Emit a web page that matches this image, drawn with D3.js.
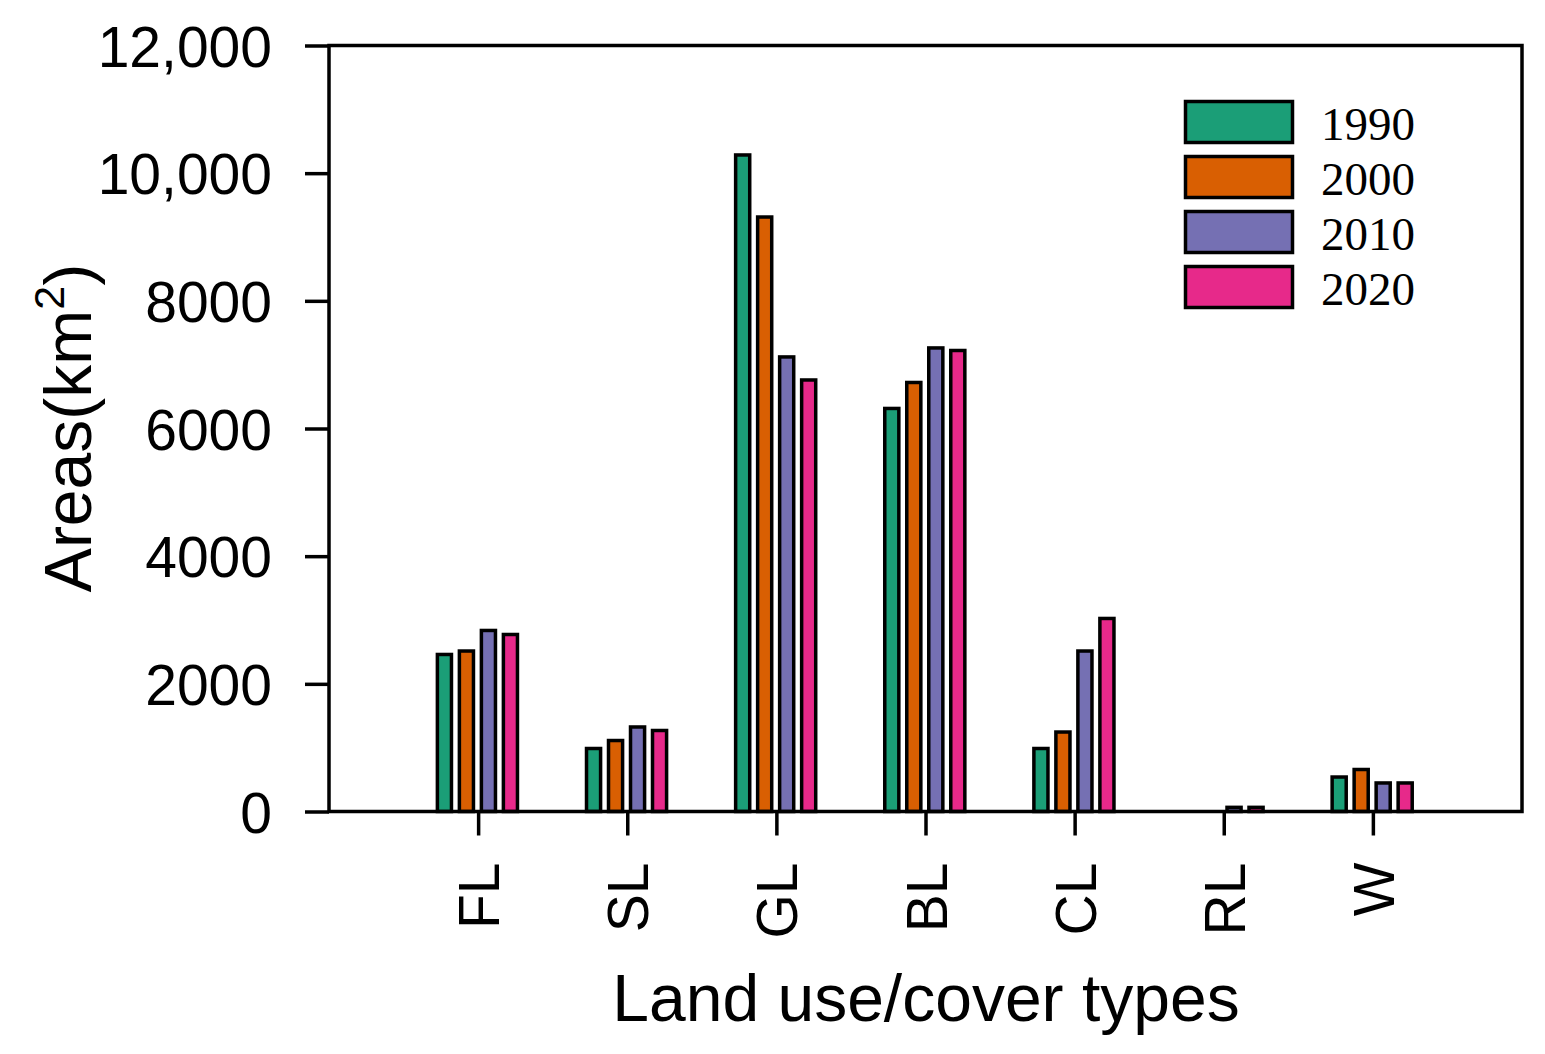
<!DOCTYPE html>
<html>
<head>
<meta charset="utf-8">
<script src="https://cdn.jsdelivr.net/npm/d3@7"></script>
<style>
  html, body { margin: 0; padding: 0; background: #fff; }
  svg { display: block; }
</style>
</head>
<body>
<svg id="chart" width="1545" height="1054"></svg>
<script>
const categories = ["FL", "SL", "GL", "BL", "CL", "RL", "W"];
const years = ["1990", "2000", "2010", "2020"];
const values1990 = [2460, 987, 10285, 6314, 987, 0, 540];
const values2000 = [2514, 1112, 9313, 6721, 1245, 0, 658];
const values2010 = [2836, 1324, 7121, 7262, 2514, 65, 447];
const values2020 = [2773, 1269, 6760, 7222, 3024, 65, 447];
const seriesValues = [values1990, values2000, values2010, values2020];
const colors = ["#1b9e77", "#d95f02", "#7570b3", "#e7298a"];
const yTickValues = [0, 2000, 4000, 6000, 8000, 10000, 12000];
const yTickLabels = ["0", "2000", "4000", "6000", "8000", "10,000", "12,000"];

const svg = d3.select("#chart");
const L = 329, R = 1522, T = 45.5, B = 811.5;

const x = d3.scaleLinear().domain([0, categories.length + 1]).range([L, R]);
const xInner = d3.scaleBand().domain(years).range([-44.7, 43.3]).paddingInner(0.36).paddingOuter(0.18);
const y = d3.scaleLinear().domain([0, 12000]).range([B, T]);

// bars
years.forEach((yr, si) => {
  svg.append("g").selectAll("rect")
    .data(seriesValues[si])
    .join("rect")
    .attr("x", (d, i) => x(i + 1) + xInner(yr))
    .attr("width", xInner.bandwidth())
    .attr("y", d => y(d))
    .attr("height", d => y(0) - y(d))
    .attr("fill", colors[si])
    .attr("stroke", "#000")
    .attr("stroke-width", 3.5);
});

// frame
svg.append("rect")
  .attr("x", L).attr("y", T).attr("width", R - L).attr("height", B - T)
  .attr("fill", "none").attr("stroke", "#000").attr("stroke-width", 3.5);

// y axis
const yAxis = d3.axisLeft(y).tickValues(yTickValues)
  .tickFormat((d, i) => yTickLabels[i]).tickSize(24).tickPadding(33);
const gy = svg.append("g").attr("transform", `translate(${L},0)`).call(yAxis);
gy.select(".domain").remove();
gy.selectAll(".tick line").attr("stroke", "#000").attr("stroke-width", 3.5);
gy.selectAll(".tick text")
  .attr("font-family", "'Liberation Sans', Arial, sans-serif")
  .attr("font-size", 57).attr("fill", "#000").attr("dy", "0.36em");

// x axis
const xAxis = d3.axisBottom(x).tickValues(d3.range(1, categories.length + 1))
  .tickFormat(d => categories[d - 1]).tickSize(24).tickPadding(0);
const gx = svg.append("g").attr("transform", `translate(0,${B})`).call(xAxis);
gx.select(".domain").remove();
gx.selectAll(".tick line").attr("stroke", "#000").attr("stroke-width", 3.5);
gx.selectAll(".tick text")
  .attr("font-family", "'Liberation Sans', Arial, sans-serif")
  .attr("font-size", 57).attr("fill", "#000")
  .attr("text-anchor", "end")
  .attr("transform", "translate(0,51) rotate(-90)")
  .attr("x", 0).attr("y", 0).attr("dy", "0.36em");

// axis titles
svg.append("text")
  .attr("x", 926).attr("y", 1021)
  .attr("text-anchor", "middle")
  .attr("font-family", "'Liberation Sans', Arial, sans-serif")
  .attr("font-size", 66).attr("fill", "#000")
  .text("Land use/cover types");

const yt = svg.append("text")
  .attr("transform", "translate(91,428) rotate(-90)")
  .attr("text-anchor", "middle")
  .attr("font-family", "'Liberation Sans', Arial, sans-serif")
  .attr("font-size", 66).attr("fill", "#000");
yt.append("tspan").text("Areas(km");
yt.append("tspan").attr("font-size", 43).attr("dy", -27).text("2");
yt.append("tspan").attr("dy", 27).text(")");

// legend
const lg = svg.append("g");
years.forEach((yr, i) => {
  const top = 101.5 + i * 55;
  lg.append("rect")
    .attr("x", 1185.5).attr("y", top).attr("width", 107).attr("height", 41)
    .attr("fill", colors[i]).attr("stroke", "#000").attr("stroke-width", 3.5);
  lg.append("text")
    .attr("x", 1321).attr("y", top + 38.5)
    .attr("font-family", "'Liberation Serif', 'Times New Roman', serif")
    .attr("font-size", 47).attr("fill", "#000")
    .text(yr);
});
</script>
</body>
</html>
